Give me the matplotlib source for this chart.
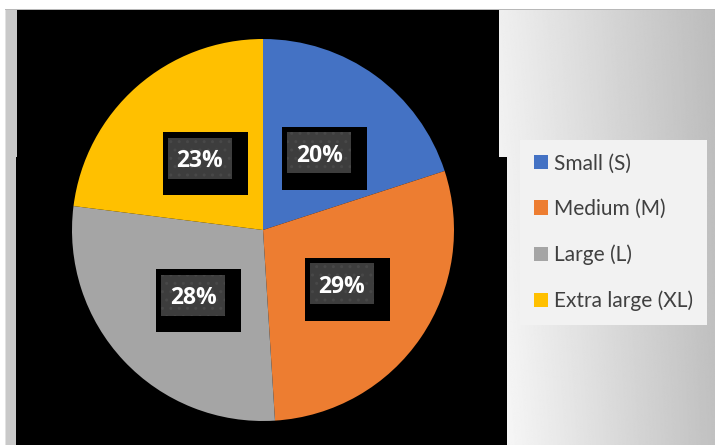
import numpy as np
import matplotlib
matplotlib.use("Agg")
import matplotlib.pyplot as plt
from matplotlib.patches import Rectangle

plt.rcParams["hatch.linewidth"] = 1.0

# data
sizes = ["Small (S)", "Medium (M)", "Large (L)", "Extra large (XL)"]
shares = [20, 29, 28, 23]
colors = ["#4472c4", "#ed7d31", "#a5a5a5", "#ffc000"]

W, H = 715, 445
fig = plt.figure(figsize=(W / 100, H / 100), dpi=100)

# ---- background (pixel coordinates) ----
bg = fig.add_axes([0, 0, 1, 1], zorder=0)
bg.set_xlim(0, W)
bg.set_ylim(H, 0)
bg.axis("off")
# right gradient panel
gx = np.linspace(0, 1, 220)
gy = np.linspace(0, 1, 440)[:, None]
grad = 0.975 - 0.22 * gx - 0.035 * (1 - gy) * (1 - 0.5 * gx)
bg.imshow(grad, cmap="gray", vmin=0, vmax=1, extent=(497, W, H, 9),
          aspect="auto", interpolation="bilinear", zorder=1)
# left grey strip and top border
bg.add_patch(Rectangle((5, 9), 12, H - 9, facecolor="#c9c9c9", lw=0, zorder=2))
bg.add_patch(Rectangle((5, 9), 1.2, H - 9, facecolor="#e2e2e2", lw=0, zorder=3))
bg.add_patch(Rectangle((5, 9), W - 5, 1.2, facecolor="#b8b8b8", lw=0, zorder=3))
# black plot area
bg.add_patch(Rectangle((17, 10), 482, 148, facecolor="black", lw=0, zorder=4))
bg.add_patch(Rectangle((16, 157), 491, H - 157, facecolor="black", lw=0, zorder=4))

# ---- pie: 1 data unit = R pixels, centre at (CX, CY) ----
CX, CY, R = 263, 230, 191
ax = fig.add_axes([0, 0, 1, 1], zorder=1)
ax.patch.set_alpha(0)
wedges, _, autotexts = ax.pie(shares, colors=colors, startangle=90, counterclock=False,
                              autopct="%.0f%%", pctdistance=0.5,
                              wedgeprops=dict(linewidth=0),
                              textprops=dict(color="white", fontsize=16.5,
                                             fontweight="bold", family="Open Sans"))
ax.set_aspect("auto")
ax.set_xlim(-CX / R, (W - CX) / R)
ax.set_ylim(-(H - CY) / R, CY / R)
ax.axis("off")

px = 1.0 / R
for t in autotexts:
    x, y = t.get_position()
    # shadow box + dotted dark label box
    ax.add_patch(Rectangle((x - 37 * px, y - 37 * px), 85 * px, 63 * px,
                           facecolor="black", lw=0, zorder=3))
    ax.add_patch(Rectangle((x - 32 * px, y - 20.5 * px), 64 * px, 41 * px,
                           facecolor="#3d3d3d", edgecolor="#484848", hatch="..",
                           lw=0, zorder=4))
    t.set_position((x, y - 3 * px))
    t.set_zorder(5)
    t.set_va("center")
    t.set_ha("center")

leg = fig.legend(wedges, sizes, loc="upper left",
                 bbox_to_anchor=(520 / W, 1 - 140 / H), frameon=True,
                 fancybox=False, facecolor="#f2f2f2", edgecolor="none", framealpha=1,
                 prop=dict(family="Lato", size=15), labelcolor="#404040",
                 handlelength=0.68, handleheight=0.68, handletextpad=0.3,
                 labelspacing=1.22, borderpad=0.65, borderaxespad=0)
leg.set_zorder(6)

fig.savefig("out.png", dpi=100)
